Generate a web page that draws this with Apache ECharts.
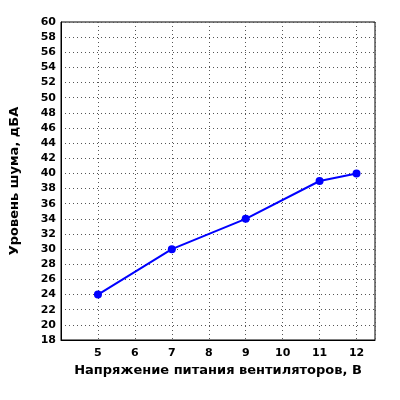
<!DOCTYPE html>
<html><head><meta charset="utf-8">
<script src="https://cdn.jsdelivr.net/npm/echarts@6/dist/echarts.min.js"></script>
<style>html,body{margin:0;padding:0;background:#fff}#c{width:400px;height:400px}</style>
</head><body><div id="c"></div>
<script>
const xValues = [5, 7, 9, 11, 12];
const yValues = [24, 30, 34, 39, 40];
const xTitle = 'Напряжение питания вентиляторов, В';
const yTitle = 'Уровень шума, дБА';
const chart = echarts.init(document.getElementById('c'));
const font = 'DejaVu Sans';
chart.setOption({
  animation: false,
  grid: {left: 55, right: 25, top: 22, bottom: 60, show: true, borderColor: '#000', borderWidth: 1},
  xAxis: {
    type: 'value', min: 4, max: 12.5, interval: 1,
    name: xTitle, nameLocation: 'middle', nameGap: 20,
    nameTextStyle: {fontFamily: font, fontWeight: 'bold', fontSize: 13, color: '#000'},
    axisLine: {lineStyle: {color: '#000'}},
    axisTick: {show: false},
    axisLabel: {fontFamily: font, fontWeight: 'bold', fontSize: 11, color: '#000', margin: 8,
      formatter: v => (v === 4 || v > 12) ? '' : String(v)},
    splitLine: {show: true, lineStyle: {color: '#555', type: [1, 3]}}
  },
  yAxis: {
    type: 'value', min: 18, max: 60, interval: 2,
    name: yTitle, nameLocation: 'middle', nameGap: 40,
    nameTextStyle: {fontFamily: font, fontWeight: 'bold', fontSize: 13, color: '#000'},
    axisLine: {show: true, lineStyle: {color: '#000'}},
    axisTick: {show: false},
    axisLabel: {fontFamily: font, fontWeight: 'bold', fontSize: 11, color: '#000', margin: 5},
    splitLine: {show: true, lineStyle: {color: '#555', type: [1, 3]}}
  },
  series: [{
    type: 'line', data: xValues.map((x, i) => [x, yValues[i]]),
    symbol: 'circle', symbolSize: 8,
    lineStyle: {color: '#0000ff', width: 2},
    itemStyle: {color: '#0000ff'}
  }]
});
</script></body></html>
